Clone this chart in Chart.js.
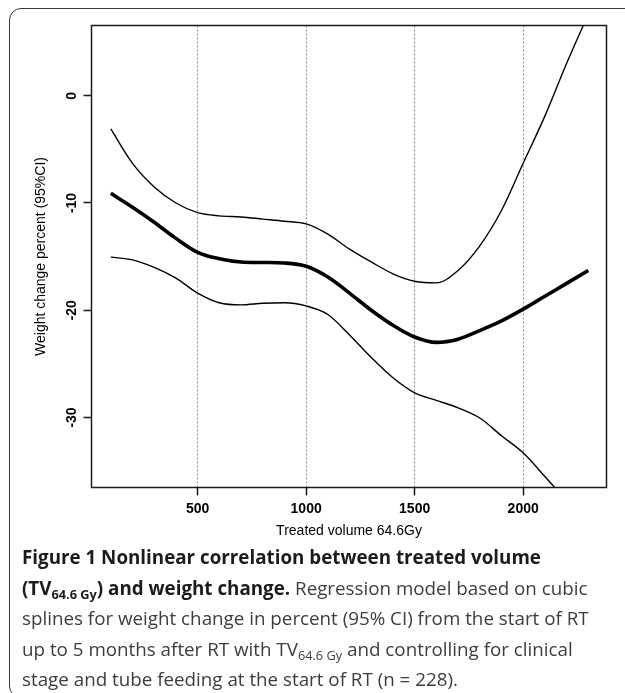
<!DOCTYPE html>
<html>
<head>
<meta charset="utf-8">
<script src="https://cdn.jsdelivr.net/npm/chart.js@4.4.1/dist/chart.umd.min.js"></script>
<style>
  html, body { margin: 0; padding: 0; background: #fff; width: 625px; height: 693px; overflow: hidden; }
  .box { position: absolute; left: 9px; top: 8px; width: 640px; height: 690px; border: 1.5px solid #3a3a3a; border-radius: 12px; box-sizing: border-box; }
  #chart { position: absolute; left: 0; top: 0; }
  .caption { position: absolute; left: 22px; top: 542px; font-family: "Open Sans", Lato, sans-serif; font-size: 18.8px; line-height: 30.5px; color: #3d3d3d; white-space: nowrap; }
  .caption b { color: #1c1c1c; }
  .caption sub { font-size: 0.68em; vertical-align: -0.3em; line-height: 0; }
</style>
</head>
<body>
<div class="box"></div>
<canvas id="chart" width="625" height="548"></canvas>
<div class="caption">
  <b>Figure 1 Nonlinear correlation between treated volume</b><br>
  <b>(TV<sub>64.6 Gy</sub>) and weight change.</b> Regression model based on cubic<br>
  splines for weight change in percent (95% CI) from the start of RT<br>
  up to 5 months after RT with TV<sub>64.6 Gy</sub> and controlling for clinical<br>
  stage and tube feeding at the start of RT (n = 228).
</div>
<script>
// values
const volume = [100, 200, 300, 400, 500, 600, 700, 800, 900, 1000, 1100, 1200,
                1300, 1400, 1500, 1600, 1700, 1800, 1900, 2000, 2100, 2200, 2300];
const estimate = [-9.1, -10.4, -11.8, -13.3, -14.6, -15.2, -15.5, -15.55, -15.6, -15.9, -16.9, -18.4,
                  -20.0, -21.4, -22.5, -23.0, -22.7, -21.9, -21.0, -19.9, -18.7, -17.5, -16.3];
const upperCI = [-3.1, -6.3, -8.5, -10.0, -10.9, -11.2, -11.3, -11.5, -11.7, -11.95, -12.9, -14.3,
                 -15.5, -16.6, -17.3, -17.45, -16.3, -14.0, -10.7, -6.3, -1.9, 3.0, 7.6];
const lowerCI = [-15.05, -15.3, -16.0, -17.0, -18.4, -19.3, -19.5, -19.35, -19.3, -19.6, -20.4, -22.3,
                 -24.4, -26.3, -27.7, -28.4, -29.1, -30.05, -31.7, -33.3, -35.5, -37.8, -40.2];
const xTicks = [500, 1000, 1500, 2000];
const yTicks = [0, -10, -20, -30];

const axisFont = { family: '"Liberation Sans", Arial, sans-serif', size: 14 };
const tickFont = { family: '"Liberation Sans", Arial, sans-serif', size: 14, weight: 'bold' };
const ink = '#1a1a1a';

const toPoints = ys => volume.map((v, i) => ({ x: v, y: ys[i] }));

const line = (label, ys, width) => ({
    label: label,
    data: toPoints(ys),
    borderColor: '#000',
    borderWidth: width,
    pointRadius: 0,
    cubicInterpolationMode: 'monotone',
    fill: false,
    clip: 0
});

// box round the plot, like R's box()
const frame = {
    id: 'frame',
    afterDatasetsDraw(chart) {
        const { ctx, chartArea: a } = chart;
        ctx.save();
        ctx.strokeStyle = ink;
        ctx.lineWidth = 1.5;
        ctx.strokeRect(a.left, a.top, a.right - a.left, a.bottom - a.top);
        ctx.restore();
    }
};

new Chart(document.getElementById('chart'), {
    type: 'line',
    data: {
        datasets: [
            line('Upper 95% CI', upperCI, 1.4),
            line('Estimate', estimate, 3.6),
            line('Lower 95% CI', lowerCI, 1.4)
        ]
    },
    options: {
        responsive: false,
        animation: false,
        devicePixelRatio: 1,
        layout: { padding: { left: 0, top: 25.5, right: 18.5, bottom: 0 } },
        plugins: { legend: { display: false }, tooltip: { enabled: false } },
        scales: {
            x: {
                type: 'linear',
                min: 11,
                max: 2384,
                afterBuildTicks: s => { s.ticks = xTicks.map(v => ({ value: v })); },
                afterFit: s => { s.height = 60.5; },
                ticks: {
                    autoSkip: false, color: '#000', font: tickFont, padding: 5, maxRotation: 0,
                    callback: v => String(v)
                },
                grid: {
                    color: '#8a8a8a', lineWidth: 1,
                    tickColor: ink, tickWidth: 1.5, tickLength: 8, tickBorderDash: []
                },
                border: { display: false, dash: [2, 2] },
                title: {
                    display: true, text: 'Treated volume 64.6Gy', color: '#000',
                    font: axisFont, padding: { top: 0, bottom: 8 }
                }
            },
            y: {
                type: 'linear',
                min: -36.53,
                max: 6.55,
                afterBuildTicks: s => { s.ticks = yTicks.map(v => ({ value: v })); },
                afterFit: s => { s.width = 91.5; },
                ticks: {
                    autoSkip: false, color: '#000', font: tickFont, padding: 1,
                    minRotation: 90, maxRotation: 90, crossAlign: 'center',
                    callback: v => String(v)
                },
                grid: {
                    drawOnChartArea: false,
                    tickColor: ink, tickWidth: 1.5, tickLength: 8
                },
                border: { display: false },
                title: {
                    display: true, text: 'Weight change percent (95%CI)', color: '#000',
                    font: axisFont, padding: { top: 32.5, bottom: 0 }
                }
            }
        }
    },
    plugins: [frame]
});
</script>
</body>
</html>
